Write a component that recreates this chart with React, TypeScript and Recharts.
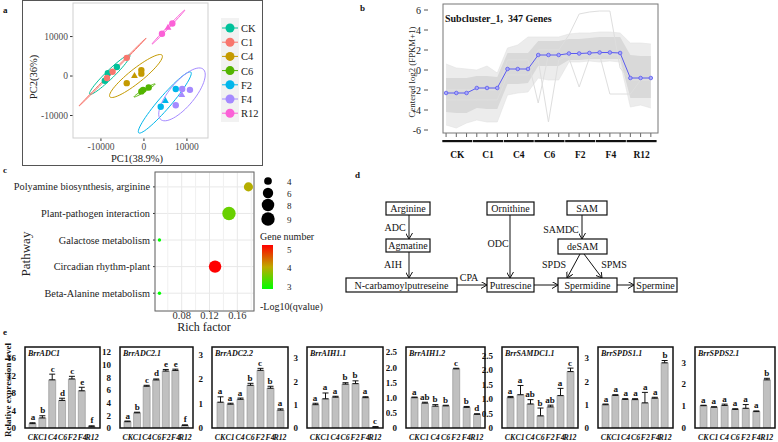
import React from "react";
import {
  ScatterChart, Scatter, XAxis, YAxis, ZAxis, ReferenceLine, CartesianGrid, Cell,
  ComposedChart, Line, Area, Bar, ErrorBar, LabelList,
} from "recharts";

const FONT = "Liberation Serif, DejaVu Serif, Noto Serif, Tinos, Times New Roman, serif";

// ---------- a: PCA ----------
const pcaGroups = ["CK", "C1", "C4", "C6", "F2", "F4", "R12"];
const pcaColors = ["#00C19A", "#F8766D", "#C49A00", "#53B400", "#00B6EB", "#A58AFF", "#FB61D7"];
const pcaPC1 = [
  [-8400, -6300, -9100],
  [-8600, -7300, -4000],
  [-600, -2200, -4000, -600],
  [-600, -200, 1100],
  [7400, 5000, 3900],
  [8900, 10700, 8800, 7400],
  [4200, 6600, 5600],
];
const pcaPC2 = [
  [700, 2300, -1200],
  [-500, 1100, 4600],
  [1500, 100, -1800, 600],
  [-3900, -3500, -2900],
  [-3300, -6200, -7800],
  [-3300, -3500, -4700, -7400],
  [10700, 13300, 12300],
];
const pcaTriangle = [[], [], [1], [], [1], [2], [2]];
// confidence ellipses: major axis end points (x1,y1,x2,y2) and half width
const pcaEllipse = [
  [-12600, -4600, -3300, 5300, 1000],
  [-15100, -7600, 500, 9600, 150],
  [-7900, -5300, 4200, 5300, 1700],
  [-2300, -5300, 2600, -2000, 300],
  [-1200, -14400, 10900, 1000, 1500],
  [4000, -11100, 13700, 1800, 3000],
  [1900, 8100, 9500, 16700, 200],
];

// ---------- b: subcluster ----------
const sampleIdx = Array.from({ length: 21 }, (_, i) => i);
const clusterMean = [-2.3, -2.3, -2.3, -1.8, -1.8, -1.8, 0.1, 0.1, 0.1, 1.5, 1.5, 1.5, 1.65, 1.65, 1.7, 1.75, 1.75, 1.7, -0.8, -0.8, -0.8];
const bandOuterLo = [-5.5, -5.8, -5.3, -5.0, -5.2, -5.2, -2.5, -2.3, -2.2, -0.8, -1.0, -1.0, 0.8, 0.8, 0.9, 0.8, 0.9, 0.8, -3.7, -3.5, -3.8];
const bandOuterHi = [0.6, 0.2, 0.1, 0.0, 0.4, -0.3, 2.2, 2.5, 3.3, 3.3, 3.3, 3.3, 3.6, 3.7, 3.7, 3.8, 3.8, 3.7, 2.7, 2.7, 2.6];
const bandCoreLo = [-4.2, -4.3, -4.3, -3.8, -3.9, -3.9, -1.4, -1.4, -1.3, 0.4, 0.4, 0.4, 1.0, 1.0, 1.1, 1.1, 1.1, 1.1, -2.8, -2.8, -2.8];
const bandCoreHi = [-0.8, -0.8, -0.8, -0.6, -0.6, -0.7, 1.7, 1.7, 1.7, 2.9, 2.9, 2.9, 3.1, 3.1, 3.2, 3.3, 3.3, 3.3, 1.5, 1.4, 1.4];
const geneSpike = [-2, -2, -2, -2, -2, -2, 0, 0, 0, 2, 2, 2, 3.5, 5.6, 5.8, 5.9, 5.9, 0.2, -1, -1, -1];
const geneDipA = [-3, -3, -3, -3, -3, -3, -0.5, -0.5, -0.5, 1, -5.2, 1, 1.5, 1.5, 1.5, 1.5, 1.5, 1.5, -1, -1, -1];
const geneDipB = [-2, -2, -2, -2, -2, -2, 1, 1, 1, -3.3, 1.5, 1.5, 1.2, -1.7, 1.2, 1.5, -2.4, -2.4, -2.4, -1, -1];
const clusterGroups = ["CK", "C1", "C4", "C6", "F2", "F4", "R12"];

// ---------- c: KEGG enrichment ----------
const pathways = ["Polyamine biosynthesis, arginine", "Plant-pathogen interaction", "Galactose metabolism", "Circadian rhythm-plant", "Beta-Alanine metabolism"];
const richFactor = [0.176, 0.148, 0.048, 0.128, 0.048];
const geneNumber = [5, 9, 2, 8, 2];
const qValue = [3.95, 3.55, 3.0, 5.0, 3.0];
const sizeLegend = [4, 6, 8, 9];

// ---------- e: qRT-PCR ----------
const eGroups = ["CK", "C1", "C4", "C6", "F2", "F4", "R12"];
const eTitles = ["BrrADC1", "BrrADC2.1", "BrrADC2.2", "BrrAIH1.1", "BrrAIH1.2", "BrrSAMDC1.1", "BrrSPDS1.1", "BrrSPDS2.1"];
const eValues = [
  [1.0, 2.3, 11.0, 6.3, 11.2, 8.5, 0.3],
  [1.0, 2.4, 6.6, 7.6, 9.0, 9.1, 0.4],
  [1.05, 0.97, 1.17, 1.74, 2.35, 1.62, 0.73],
  [1.0, 1.25, 1.32, 1.88, 1.9, 1.3, 0.03],
  [1.0, 0.82, 0.72, 0.73, 1.95, 0.68, 0.45],
  [1.05, 1.15, 0.83, 0.42, 0.73, 1.12, 1.95],
  [1.0, 1.4, 1.23, 1.22, 1.08, 1.28, 2.8],
  [1.02, 0.95, 1.03, 0.85, 0.9, 0.75, 2.2],
];
const eErrors = [
  [0.2, 0.5, 1.3, 0.5, 0.6, 0.8, 0.2],
  [0.1, 0.1, 0.15, 0.15, 0.25, 0.2, 0.1],
  [0.22, 0.04, 0.05, 0.08, 0.08, 0.08, 0.05],
  [0.06, 0.25, 0.04, 0.06, 0.12, 0.04, 0.03],
  [0.02, 0.03, 0.05, 0.02, 0.02, 0.03, 0.02],
  [0.04, 0.32, 0.15, 0.27, 0.06, 0.25, 0.12],
  [0.03, 0.03, 0.03, 0.04, 0.45, 0.04, 0.1],
  [0.02, 0.02, 0.06, 0.03, 0.17, 0.03, 0.07],
];
const eLetters = [
  ["a", "b", "c", "d", "c", "e", "f"],
  ["a", "b", "c", "d", "e", "e", "f"],
  ["a", "a", "a", "b", "c", "b", "a"],
  ["a", "a", "a", "b", "b", "a", "c"],
  ["a", "ab", "b", "b", "c", "b", "d"],
  ["a", "a", "ab", "b", "ab", "a", "c"],
  ["a", "a", "a", "a", "a", "a", "b"],
  ["a", "a", "a", "a", "a", "a", "b"],
];
const eTicks = [
  [0, 4, 8, 12, 16],
  [0, 2, 4, 6, 8, 10, 12],
  [0, 1, 2, 3],
  [0, 1, 2, 3],
  [0, 0.5, 1, 1.5, 2, 2.5],
  [0, 0.5, 1, 1.5, 2, 2.5],
  [0, 1, 2, 3],
  [0, 1, 2, 3],
];
const eMax = [18.5, 12.8, 3.3, 3.47, 2.67, 2.8, 3.48, 3.7];
const eBoxes = [[25, 100], [120, 193], [212, 288], [307, 383], [406, 485], [502, 578], [598, 673], [695, 775]];

function ellipsePoints(x1: number, y1: number, x2: number, y2: number, hw: number) {
  const cx = (x1 + x2) / 2, cy = (y1 + y2) / 2;
  const ux = (x2 - x1) / 2, uy = (y2 - y1) / 2;
  const len = Math.hypot(ux, uy);
  const vx = (-uy / len) * hw, vy = (ux / len) * hw;
  const pts = [];
  for (let k = 0; k <= 60; k++) {
    const t = (k / 60) * Math.PI * 2;
    pts.push({ x: cx + ux * Math.cos(t) + vx * Math.sin(t), y: cy + uy * Math.cos(t) + vy * Math.sin(t) });
  }
  return pts;
}

function qColor(q: number) {
  const stops = [[0, 255, 0], [190, 170, 0], [255, 0, 0]];
  const t = Math.max(0, Math.min(2, q - 3));
  const i = Math.min(1, Math.floor(t));
  const f = t - i;
  const c = stops[i].map((v, k) => Math.round(v + (stops[i + 1][k] - v) * f));
  return `rgb(${c[0]},${c[1]},${c[2]})`;
}
const sizeRadius = (g: number) => Math.sqrt((9 + ((g - 2) / 7) * 132) / Math.PI);

function PcaPoint(props: any) {
  const { cx, cy, fill, payload } = props;
  if (payload.tri) {
    return <path d={`M${cx},${cy - 3.6} L${cx + 3.4},${cy + 2.4} L${cx - 3.4},${cy + 2.4} Z`} fill={fill} />;
  }
  return <circle cx={cx} cy={cy} r={3.2} fill={fill} />;
}

function PanelA() {
  const tick = { fontSize: 9.5, fill: "#4d4d4d", fontFamily: FONT };
  return (
    <div style={{ position: "absolute", left: 22, top: 0 }}>
      <ScatterChart width={240} height={165} margin={{ top: 3, right: 54, bottom: 0, left: 0 }}>
        <XAxis type="number" dataKey="x" domain={[-16500, 14900]} ticks={[-10000, 0, 10000]} height={27} interval={0}
          axisLine={false} tickSize={3} tickMargin={2} tick={tick} stroke="#333" allowDataOverflow />
        <YAxis type="number" dataKey="y" domain={[-15700, 18500]} ticks={[-10000, 0, 10000]} width={51} interval={0}
          axisLine={false} tickSize={3} tickMargin={2} tick={tick} stroke="#333" allowDataOverflow />
        {pcaEllipse.map((e, g) => (
          <Scatter key={"el" + g} data={ellipsePoints(e[0], e[1], e[2], e[3], e[4])} line={{ stroke: pcaColors[g], strokeWidth: 1 }}
            shape={() => <g />} isAnimationActive={false} />
        ))}
        {pcaGroups.map((name, g) => (
          <Scatter key={name} name={name} fill={pcaColors[g]} shape={<PcaPoint />} isAnimationActive={false}
            data={pcaPC1[g].map((x, i) => ({ x, y: pcaPC2[g][i], tri: pcaTriangle[g].includes(i) }))} />
        ))}
      </ScatterChart>
    </div>
  );
}

function ClusterYTick(props: any) {
  const { x, y, payload } = props;
  return (
    <g>
      <line x1={x - 19} x2={x - 15} y1={y} y2={y} stroke="#555" />
      <text x={x - 22} y={y + 3.5} textAnchor="end" fontSize={10} fill="#222" fontFamily={FONT}>{payload.value}</text>
    </g>
  );
}

function ClusterXTick(props: any) {
  const { x, y, payload } = props;
  if (payload.value % 3 !== 1) return <g />;
  const name = clusterGroups[(payload.value - 1) / 3];
  return (
    <g>
      <rect x={x - 14} y={y + 1} width={30} height={2.2} fill="#111" />
      <text x={x + 1} y={y + 18.5} textAnchor="middle" fontSize={9.5} fontWeight={700} fill="#111" fontFamily={FONT}>{name}</text>
    </g>
  );
}

function PathwayTick(props: any) {
  const { x, y, payload } = props;
  return (
    <text x={x} y={y + 3.5} textAnchor="end" fontSize={10.3} fill="#222" fontFamily={FONT}>
      {pathways[pathways.length - payload.value]}
    </text>
  );
}

function PanelB() {
  const data = sampleIdx.map((i) => ({
    i,
    outer: [bandOuterLo[i], bandOuterHi[i]],
    core: [bandCoreLo[i], bandCoreHi[i]],
    mean: clusterMean[i],
    s1: geneSpike[i],
    s2: geneDipA[i],
    s3: geneDipB[i],
  }));
  return (
    <div style={{ position: "absolute", left: 400, top: 0 }}>
      <ComposedChart width={265} height={165} data={data} margin={{ top: 4, right: 7, bottom: 0, left: 0 }}>
        <XAxis type="number" dataKey="i" domain={[-0.3, 20.7]} ticks={sampleIdx} interval={0} height={32}
          axisLine={false} tickSize={4} tickMargin={2} stroke="#666" tick={<ClusterXTick />} />
        <YAxis type="number" domain={[-6.3, 6.6]} ticks={[-6, -4, -2, 0, 2, 4, 6]} width={43} interval={0}
          axisLine={false} tickLine={false} tickSize={0} tickMargin={0} tick={<ClusterYTick />} allowDataOverflow />
        <Area type="linear" dataKey="outer" stroke="#e2e2e2" strokeWidth={0.6} fill="#ececec" fillOpacity={1} isAnimationActive={false} />
        <Area type="linear" dataKey="core" stroke="none" fill="#d9d9d9" fillOpacity={1} isAnimationActive={false} />
        <Line type="linear" dataKey="s1" stroke="#dedede" strokeWidth={1} dot={false} isAnimationActive={false} />
        <Line type="linear" dataKey="s2" stroke="#dedede" strokeWidth={1} dot={false} isAnimationActive={false} />
        <Line type="linear" dataKey="s3" stroke="#dedede" strokeWidth={1} dot={false} isAnimationActive={false} />
        <Line type="linear" dataKey="mean" stroke="#5a5af0" strokeWidth={1} isAnimationActive={false}
          dot={{ r: 1.8, stroke: "#5a5af0", fill: "#a9a9f8", strokeWidth: 0.8 }} />
      </ComposedChart>
    </div>
  );
}

function PanelC() {
  const data = pathways.map((p, i) => ({ rf: richFactor[i], y: pathways.length - i, genes: geneNumber[i], q: qValue[i] }));
  return (
    <div style={{ position: "absolute", left: 0, top: 165 }}>
      <ScatterChart width={258} height={165} margin={{ top: 7, right: 4, bottom: 0, left: 0 }}>
        <CartesianGrid stroke="#e8e8e8" />
        {[0.06, 0.1, 0.14, 0.18].map((v) => (
          <ReferenceLine key={v} x={v} stroke="#f0f0f0" />
        ))}
        <XAxis type="number" dataKey="rf" domain={[0.0416, 0.184]} ticks={[0.08, 0.12, 0.16]} height={19} interval={0}
          tickFormatter={(v: number) => v.toFixed(2)} axisLine={false} tickSize={1} tickMargin={0} stroke="#333"
          tick={{ fontSize: 10.5, fill: "#333", fontFamily: FONT }} allowDataOverflow />
        <YAxis type="number" dataKey="y" domain={[0.33, 5.56]} ticks={[1, 2, 3, 4, 5]} width={155} interval={0}
          axisLine={false} tickSize={2} tickMargin={3} stroke="#333" tick={<PathwayTick />} allowDataOverflow />
        <ZAxis type="number" dataKey="genes" domain={[2, 9]} range={[9, 141]} />
        <Scatter data={data} isAnimationActive={false}>
          {data.map((d, i) => (
            <Cell key={i} fill={qColor(d.q)} />
          ))}
        </Scatter>
      </ScatterChart>
    </div>
  );
}

function ExprChart({ k }: { k: number }) {
  const [left, right] = eBoxes[k];
  const yw = 20;
  const data = eGroups.map((g, i) => ({
    g,
    v: eValues[k][i],
    err: [0, eErrors[k][i]],
    top: eValues[k][i] + eErrors[k][i],
    lt: eLetters[k][i],
  }));
  const fmt = (v: number) => (eTicks[k].some((t) => t % 1 !== 0) && v !== 0 ? v.toFixed(1) : String(v));
  return (
    <div style={{ position: "absolute", left: left - yw, top: 340 }}>
      <ComposedChart width={right - left + yw + 1} height={102} data={data} margin={{ top: 7, right: 1, bottom: 0, left: 0 }}>
        <XAxis dataKey="g" height={14} interval={0} tickLine={false} axisLine={false} padding={{ left: 3, right: 3 }} tickMargin={0}
          tick={{ fontSize: 7.8, fontWeight: 700, fontStyle: "italic", fill: "#111", fontFamily: FONT }} />
        <YAxis type="number" domain={[0, eMax[k]]} ticks={eTicks[k]} width={yw} tickFormatter={fmt} interval={0}
          axisLine={false} tickLine={false} tickMargin={3} allowDataOverflow
          tick={{ fontSize: 9, fontWeight: 700, fill: "#111", fontFamily: FONT }} />
        <Bar dataKey="v" barSize={7} fill="#c0c0c0" stroke="#8e8e8e" strokeWidth={0.6} isAnimationActive={false}>
          <ErrorBar dataKey="err" width={3} stroke="#111" strokeWidth={1} direction="y" />
        </Bar>
        <Line dataKey="top" stroke="none" dot={false} activeDot={false} isAnimationActive={false}>
          <LabelList dataKey="lt" content={(p: any) => (
            <text x={p.x} y={p.y - 2.5} textAnchor="middle" fontSize={9} fontWeight={700} fill="#111" fontFamily={FONT}>{p.value}</text>
          )} />
        </Line>
      </ComposedChart>
    </div>
  );
}

function Box({ x, y, w, h, label }: { x: number; y: number; w: number; h: number; label: string }) {
  return (
    <g>
      <rect x={x} y={y} width={w} height={h} fill="#fff" stroke="#111" strokeWidth={1.2} />
      <text x={x + w / 2} y={y + h / 2 + 3.5} textAnchor="middle" fontSize={10} fill="#111">{label}</text>
    </g>
  );
}

function Overlay() {
  return (
    <svg width={778} height={442} style={{ position: "absolute", left: 0, top: 0, pointerEvents: "none", fontFamily: FONT }}>
      <defs>
        <marker id="ah" markerWidth={7} markerHeight={7} refX={6} refY={3.5} orient="auto" markerUnits="userSpaceOnUse">
          <path d="M0,0 L6,3.5 L0,7" fill="none" stroke="#111" strokeWidth={1} />
        </marker>
        <linearGradient id="qgrad" x1="0" y1="1" x2="0" y2="0">
          <stop offset="0%" stopColor={qColor(3)} />
          <stop offset="50%" stopColor={qColor(4)} />
          <stop offset="100%" stopColor={qColor(5)} />
        </linearGradient>
      </defs>

      {/* panel letters */}
      <g fontWeight={700} fontSize={9} fill="#111">
        <text x={3} y={13}>a</text>
        <text x={360} y={11}>b</text>
        <text x={3} y={173}>c</text>
        <text x={355} y={178}>d</text>
        <text x={3} y={335}>e</text>
      </g>

      {/* a */}
      <rect x={22.5} y={0.5} width={240} height={165} fill="none" stroke="#555" />
      <rect x={73} y={3} width={135} height={135} fill="none" stroke="#cfcfcf" />
      <text x={137} y={162} textAnchor="middle" fontSize={10.5} fill="#222">PC1(38.9%)</text>
      <text transform="translate(37,77) rotate(-90)" textAnchor="middle" fontSize={10.5} fill="#222">PC2(36%)</text>
      <rect x={221} y={18} width={18} height={104} fill="#f2f2f2" />
      {pcaGroups.map((g, i) => (
        <g key={g}>
          <line x1={222} x2={238} y1={28 + i * 14.2} y2={28 + i * 14.2} stroke={pcaColors[i]} strokeWidth={1} />
          <circle cx={230} cy={28 + i * 14.2} r={4.5} fill={pcaColors[i]} />
          <text x={241} y={32 + i * 14.2} fontSize={10.5} fill="#222">{g}</text>
        </g>
      ))}

      {/* b */}
      <rect x={443} y={4} width={215} height={129} fill="none" stroke="#777" />
      <text x={445} y={22} fontSize={10} fontWeight={700} fill="#111" xmlSpace="preserve">Subcluster_1,  347 Genes</text>
      <text transform="translate(415,72) rotate(-90)" textAnchor="middle" fontSize={8.8} fill="#222">Centered log2 (FPKM+1)</text>

      {/* c */}
      <rect x={155} y={172} width={99} height={139} fill="none" stroke="#666" />
      <text x={204} y={331} textAnchor="middle" fontSize={12} fill="#222">Rich factor</text>
      <text transform="translate(30,254) rotate(-90)" textAnchor="middle" fontSize={13} fill="#222">Pathway</text>
      {sizeLegend.map((g, i) => (
        <g key={g}>
          <circle cx={268} cy={[181, 193, 205, 219][i]} r={sizeRadius(g)} fill="#000" />
          <text x={287} y={[181, 193, 205, 219][i] + 3.5} fontSize={9} fill="#222">{g}</text>
        </g>
      ))}
      <text x={260} y={240} fontSize={10} fill="#222">Gene number</text>
      <rect x={262} y={245} width={11} height={44} fill="url(#qgrad)" />
      <text x={287} y={253} fontSize={9} fill="#222">5</text>
      <text x={287} y={271} fontSize={9} fill="#222">4</text>
      <text x={287} y={290} fontSize={9} fill="#222">3</text>
      <text x={260} y={310} fontSize={10} fill="#222">-Log10(qvalue)</text>

      {/* d */}
      <g stroke="#111" strokeWidth={1} markerEnd="url(#ah)">
        <line x1={409} y1={215} x2={409} y2={239} />
        <line x1={409} y1={252} x2={409} y2={278} />
        <line x1={457} y1={285} x2={487} y2={285} />
        <line x1={510} y1={215} x2={510} y2={278} />
        <line x1={582} y1={215} x2={582} y2={239} />
        <line x1={580} y1={254} x2={567} y2={278} />
        <line x1={584} y1={254} x2={602} y2={278} />
        <line x1={534} y1={285} x2={558} y2={285} />
        <line x1={617} y1={285} x2={634} y2={285} />
      </g>
      <Box x={386} y={202} w={44} h={13} label="Arginine" />
      <Box x={386} y={239} w={44} h={13} label="Agmatine" />
      <Box x={346} y={278} w={111} h={14} label="N-carbamoylputreseine" />
      <Box x={487} y={202} w={47} h={13} label="Ornithine" />
      <Box x={487} y={278} w={47} h={14} label="Putrescine" />
      <Box x={567} y={201} w={40} h={14} label="SAM" />
      <Box x={558} y={239} w={49} h={15} label="deSAM" />
      <Box x={558} y={278} w={59} h={14} label="Spermidine" />
      <Box x={634} y={278} w={43} h={14} label="Spermine" />
      <g fontSize={10} fill="#111">
        <text x={395} y={231} textAnchor="middle">ADC</text>
        <text x={393} y={268} textAnchor="middle">AIH</text>
        <text x={469} y={281} textAnchor="middle">CPA</text>
        <text x={498} y={247} textAnchor="middle">ODC</text>
        <text x={561} y={233} textAnchor="middle">SAMDC</text>
        <text x={554} y={268} textAnchor="middle">SPDS</text>
        <text x={614} y={268} textAnchor="middle">SPMS</text>
      </g>

      {/* e */}
      <text transform="translate(11,390) rotate(-90)" textAnchor="middle" fontSize={9} fontWeight={700} fill="#111">Relative expression level</text>
      {eBoxes.map(([l, r], k) => (
        <g key={k}>
          <rect x={l} y={347} width={r - l} height={81} fill="none" stroke="#111" strokeWidth={1.5} />
          <text x={l + 3} y={355.5} fontSize={8} fontWeight={700} fontStyle="italic" fill="#111">{eTitles[k]}</text>
        </g>
      ))}
    </svg>
  );
}

export default function App() {
  return (
    <div style={{ position: "absolute", left: 0, top: 0, width: 778, height: 442, background: "#fff", fontFamily: FONT, overflow: "hidden" }}>
      <PanelA />
      <PanelB />
      <PanelC />
      {eBoxes.map((_, k) => (
        <ExprChart key={k} k={k} />
      ))}
      <Overlay />
    </div>
  );
}
